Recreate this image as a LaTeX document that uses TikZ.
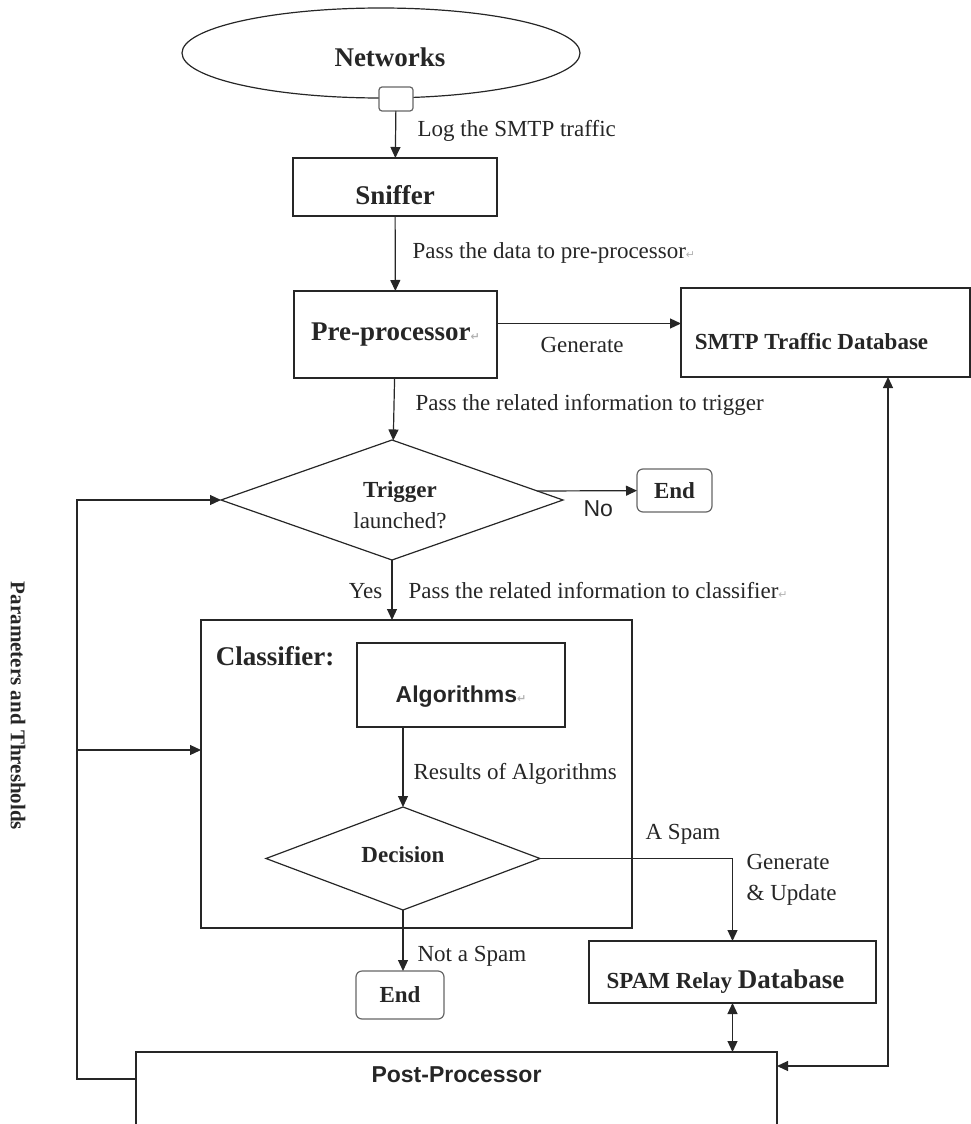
\documentclass[tikz,border=0pt]{standalone}
\usepackage{fontspec}
\setmainfont{Liberation Serif}
\setsansfont{Liberation Sans}
\newfontfamily\arrowfnt{DejaVu Sans}
\usetikzlibrary{shapes.geometric,arrows.meta,calc}
\newcommand{\pmark}{{\arrowfnt\fontsize{11}{11}\selectfont\color{gray!60}↵}}
\newcommand{\headfont}{\fontsize{27}{32}\selectfont\bfseries}
\newcommand{\midfont}{\fontsize{23}{28}\selectfont\bfseries}
\newcommand{\txtfont}{\fontsize{23}{31}\selectfont}
\newcommand{\sansbf}{\fontsize{23}{28}\selectfont\sffamily\bfseries}
\tikzstyle{box}=[draw, rectangle, inner sep=0pt, outer sep=0pt]
\tikzstyle{decide}=[draw, diamond, inner sep=0pt, outer sep=0pt]
\tikzstyle{finish}=[draw=black!60, rectangle, rounded corners=6pt, inner sep=0pt, outer sep=0pt, font=\midfont]
\tikzstyle{lbl}=[inner sep=0pt, font=\txtfont]

\begin{document}
\begin{tikzpicture}[x=1pt, y=-1pt, line width=1.2pt, >={Triangle[length=11pt,width=10pt]}, color=black!85]
\useasboundingbox (0,0) rectangle (971,1124);
% Boxes
\node[draw, ellipse, inner sep=0pt, outer sep=0pt, minimum width=398pt, minimum height=90pt, label={[font=\headfont, xshift=9pt, yshift=-4pt]center:Networks}] (net) at (381,53) {};
\node[box, rounded corners=3pt, draw=black!60, fill=white, minimum width=34pt, minimum height=24pt] (port) at (396,99) {};
\node[box, minimum width=204pt, minimum height=58pt, text height=35pt, font=\headfont] (sniffer) at (395,187) {Sniffer};
\node[box, minimum width=203pt, minimum height=87pt, font=\headfont] (pre) at (395.5,334.5) {Pre-processor\pmark};
\node[box, minimum width=289pt, minimum height=89pt, label={[font=\midfont, xshift=-14pt, yshift=-9pt]center:SMTP Traffic Database}] (smtp) at (825.5,332.5) {};
\node[decide, minimum width=342pt, minimum height=120pt, label={[align=center, font=\txtfont, xshift=8pt, yshift=-5pt]center:{{\bfseries Trigger}\\launched?}}] (trig) at (392,500) {};
\node[finish, minimum width=75pt, minimum height=43pt] (end1) at (674.5,490.5) {End};
\node[box, minimum width=431pt, minimum height=308pt, label={[font=\headfont, anchor=north west, xshift=11pt, yshift=-23pt]north west:Classifier:}] (cls) at (416.5,774) {};
\node[box, minimum width=208pt, minimum height=84pt, label={[font=\sansbf, yshift=-12pt]center:Algorithms\pmark}] (algo) at (461,685) {};
\node[decide, minimum width=274pt, minimum height=103pt, label={[font=\midfont, yshift=4pt]center:Decision}] (dec) at (403,858.5) {};
\node[finish, minimum width=88pt, minimum height=48pt] (end2) at (400,995) {End};
\node[box, minimum width=287pt, minimum height=62pt, label={[xshift=-7pt, yshift=-10pt]center:{\midfont SPAM Relay }{\headfont Database}}] (spam) at (732.5,972) {};
\node[box, anchor=north, minimum width=641pt, minimum height=76pt, label={[font=\sansbf, anchor=north, yshift=-11pt]north:Post-Processor}] (post) at (456.5,1052) {};
% Main flow
\draw[->] (port) -- (sniffer);
\draw[->] (sniffer) -- (pre);
\draw[->] ([yshift=11pt]pre.east) -- ([yshift=11pt]pre.east -| smtp.west);
\draw[->] (pre) -- (trig);
\draw[->] ($(trig.north east)!0.7!(trig.east)$) -- (end1);
\draw[->] (trig.south) -- (trig.south |- cls.north);
\draw[->] (dec.north |- algo.south) -- (dec.north);
\draw[->] (dec.east) -| (spam.north);
\draw[->] (dec.south) -- (dec.south |- end2.north);
\draw[<->] (spam.south) -- (spam.south |- post.north);
% Feedback loops
\coordinate (lft) at (77,1079);
\coordinate (lmid) at (77,750);
\coordinate (rgt) at (888,1066);
\draw[->] (post.west |- lft) -- (lft) |- (trig.west);
\draw[->] (lmid) -- (lmid -| cls.west);
\draw[<->] (post.east |- rgt) -- (rgt) -- (rgt |- smtp.south);
% Labels
\node[lbl, anchor=west] (l1) at (417,131) {Log the SMTP traffic};
\node[lbl, anchor=west] (l2) at (412,253) {Pass the data to pre-processor\pmark};
\node[lbl, anchor=west] (l3) at (540,345) {Generate};
\node[lbl, anchor=west] (l4) at (415,405) {Pass the related information to trigger};
\node[lbl, anchor=west, font=\fontsize{23}{28}\selectfont\sffamily] (l5) at (583,509) {No};
\node[lbl, anchor=east] (l6) at (383,591) {Yes};
\node[lbl, anchor=west] (l7) at (408,591) {Pass the related information to classifier\pmark};
\node[lbl, anchor=west] (l8) at (413,774) {Results of Algorithms};
\node[lbl, anchor=west] (l9) at (645,834) {A Spam};
\node[lbl, anchor=west, align=left] (l10) at (746,880) {Generate\\\& Update};
\node[lbl, anchor=west] (l11) at (417,956) {Not a Spam};
\node[lbl, rotate=-90, font=\fontsize{21}{25}\selectfont\bfseries] (l12) at (18,706) {Parameters and Thresholds};
\end{tikzpicture}
\end{document}
